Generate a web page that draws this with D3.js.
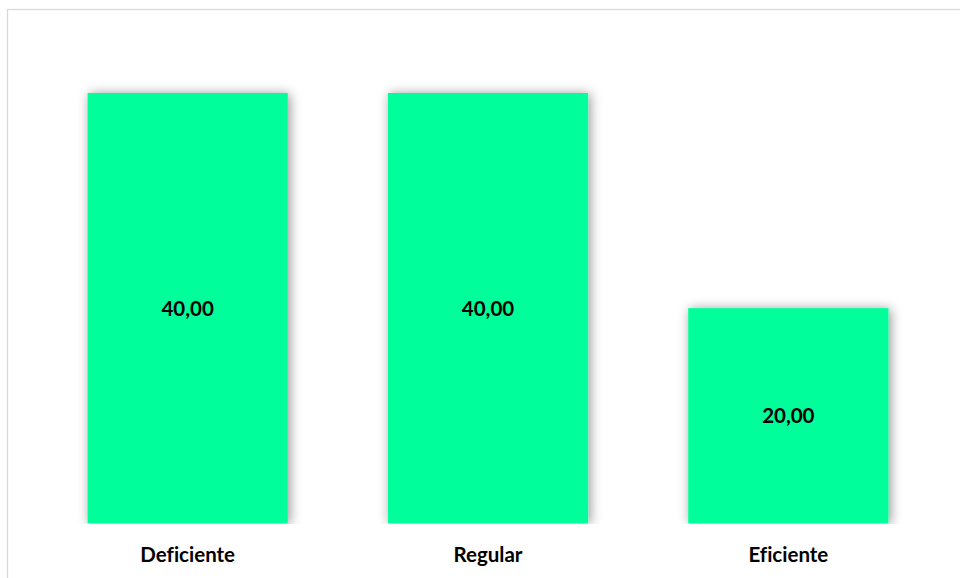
<!DOCTYPE html>
<html>
<head>
<meta charset="utf-8">
<script src="https://cdn.jsdelivr.net/npm/d3@7/dist/d3.min.js"></script>
<style>
  html, body { margin: 0; padding: 0; background: #fff; }
  svg { display: block; }
  text { font-variant-ligatures: none; font-feature-settings: "liga" 0; }
</style>
</head>
<body>
<svg id="chart" width="960" height="578"></svg>
<script>
// Category names and their percentages
const categories = ["Deficiente", "Regular", "Eficiente"];
const values = [40, 40, 20];

const fmt = v => v.toFixed(2).replace(".", ",");

const svg = d3.select("#chart");
const W = 960, H = 578;
const baseY = 523.3, topY = 93;

// Outer frame
svg.append("rect")
  .attr("x", 7.5).attr("y", 9.5)
  .attr("width", W).attr("height", H)
  .attr("fill", "none")
  .attr("stroke", "#d9d9d9")
  .attr("stroke-width", 1.3);

const defs = svg.append("defs");
const f = defs.append("filter").attr("id", "barShadow")
  .attr("x", "-20%").attr("y", "-20%").attr("width", "140%").attr("height", "140%");
f.append("feDropShadow")
  .attr("dx", 2).attr("dy", 1)
  .attr("stdDeviation", 6)
  .attr("flood-color", "#000")
  .attr("flood-opacity", 0.42);

defs.append("clipPath").attr("id", "plotClip")
  .append("rect").attr("x", 0).attr("y", 0).attr("width", W).attr("height", baseY + 0.7);

const x = d3.scaleBand()
  .domain(categories)
  .range([37.5, 938.5])
  .paddingInner(1 / 3)
  .paddingOuter(1 / 6);

const y = d3.scaleLinear()
  .domain([0, 40])
  .range([baseY, topY]);

const data = categories.map((c, i) => ({ c, v: values[i] }));

svg.append("g")
  .attr("clip-path", "url(#plotClip)")
  .selectAll("rect")
  .data(data)
  .join("rect")
  .attr("x", d => x(d.c))
  .attr("y", d => y(d.v))
  .attr("width", x.bandwidth())
  .attr("height", d => y(0) - y(d.v))
  .attr("fill", "#00fe9a")
  .attr("filter", "url(#barShadow)");

const font = "Lato, 'Open Sans', sans-serif";

// Value labels, centred in each bar
svg.append("g")
  .selectAll("text")
  .data(data)
  .join("text")
  .attr("x", d => x(d.c) + x.bandwidth() / 2)
  .attr("y", d => (y(d.v) + y(0)) / 2)
  .attr("dy", "0.36em")
  .attr("text-anchor", "middle")
  .attr("font-family", font)
  .attr("font-weight", 700)
  .attr("font-size", "20.5px")
  .attr("fill", "#000")
  .text(d => fmt(d.v));

// Category axis
const xAxis = svg.append("g")
  .attr("transform", `translate(0,${baseY})`)
  .call(d3.axisBottom(x).tickSize(0).tickPadding(24));
xAxis.select(".domain").remove();
xAxis.selectAll("text")
  .attr("font-family", font)
  .attr("font-weight", 700)
  .attr("font-size", "20.5px")
  .attr("fill", "#000");
</script>
</body>
</html>
